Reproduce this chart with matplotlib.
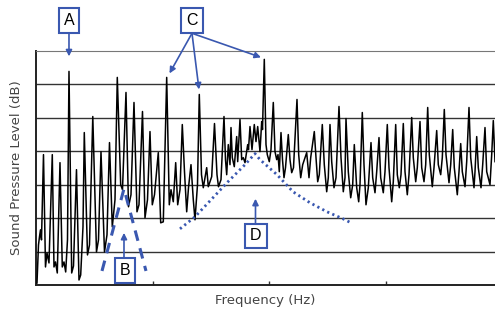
import matplotlib
matplotlib.use("Agg")
import matplotlib.pyplot as plt

# spectrum vertices (frequency bin, level in dB)
freq_bin = [1, 2.5, 3.5, 4.5, 5.5, 7.5, 9.5, 11, 13, 14.5, 16.3, 18, 19.5, 21.3, 24, 26.3, 28, 29.7,
            31.5, 33, 35.7, 37.5, 40.5, 43, 44.7, 47, 48.3, 51.5, 53.5, 56.8, 60.5, 62.5, 65, 68.5,
            71, 73.5, 76.3, 79, 81.3, 84.7, 86.5, 90, 92.5, 95, 98, 101, 103, 106.5, 109, 111.5,
            114, 116.3, 118.5, 122.3, 124.7, 127.3, 130.7, 133.3, 135, 137.3, 139.7, 141.7, 144,
            146.3, 148.5, 150.7, 152.5, 155, 157.3, 159, 161.5, 163.3, 165.5, 167.3, 170.7, 172.3,
            175.7, 178.5, 181, 182.5, 185, 188, 189.5, 190.7, 192.3, 194, 195, 196.3, 198.3, 200.7,
            201.7, 204, 205.7, 207.3, 209, 211.7, 212.5, 214, 216, 218.3, 220, 221.7, 224, 225.7,
            226.5, 228.3, 230, 231.3, 233.3, 235, 237.3, 239, 240.7, 242, 243.3, 245, 246.5, 248,
            249.5, 252.3, 254, 255.7, 257.5, 261, 262.7, 264.7, 266.7, 270.7, 273, 274.7, 278.3,
            280, 281.7, 283.3, 286.3, 288.3, 290.7, 292.3, 294, 295.7, 298, 300, 303, 305, 307.3,
            309, 310, 312.3, 314.7, 316.7, 318.3, 320.7, 322.7, 324, 326.3, 328, 330, 332.3, 335,
            336.7, 339, 340.7, 343, 344.7, 347.3, 349, 351.3, 353, 355.7, 357.3, 359.7, 361.3,
            363.3, 365, 367.3, 369, 371.3, 373, 375.7, 377.3, 379.7, 381.3, 384, 385.7, 388, 389.7,
            391.7, 393.3, 396.3, 398, 400.7, 402.3, 404.7, 406.3, 408.3, 410, 413, 414.7, 416.7,
            418.3, 421.3, 423, 424.7, 426.3, 429, 430.7, 433, 434.7, 438, 439, 440.7, 442.3, 445,
            446.7, 449, 450.7, 454, 455.7, 457.3, 459]
level_db = [0.6, 12.0, 14.4, 16.5, 13.5, 39.0, 5.4, 9.6, 6.6, 21.0, 39.0, 5.4, 6.9, 3.6, 36.6, 5.4,
            6.9, 3.9, 13.5, 63.9, 3.6, 5.7, 34.5, 1.5, 3.0, 17.4, 45.6, 9.0, 12.0, 50.4, 9.9, 13.5,
            39.9, 9.9, 15.0, 42.6, 17.4, 25.5, 62.1, 30.0, 28.5, 57.6, 23.4, 27.0, 54.6, 21.9, 24.0,
            51.9, 20.1, 25.5, 45.9, 24.0, 27.0, 39.6, 18.6, 18.9, 62.1, 24.0, 28.5, 24.9, 36.6,
            24.0, 28.5, 48.0, 33.9, 21.9, 29.1, 36.0, 25.5, 19.5, 30.0, 57.0, 33.0, 29.1, 35.1,
            29.4, 32.4, 48.3, 33.0, 29.4, 31.5, 50.4, 37.5, 33.0, 42.0, 36.0, 47.1, 38.1, 35.4,
            44.4, 36.9, 49.5, 37.5, 38.1, 36.6, 42.0, 40.5, 47.4, 40.5, 48.0, 42.9, 47.4, 39.9,
            48.9, 46.5, 67.5, 42.0, 39.0, 36.9, 40.5, 54.6, 39.9, 37.5, 39.0, 33.9, 45.6, 37.5,
            32.1, 35.1, 45.0, 37.5, 33.6, 35.1, 55.5, 39.0, 32.1, 36.0, 39.6, 32.1, 38.1, 45.9,
            38.1, 30.9, 33.0, 48.0, 36.0, 27.9, 32.1, 48.0, 36.9, 29.1, 32.1, 53.4, 38.1, 27.9,
            32.1, 49.8, 33.9, 26.1, 30.0, 42.0, 29.1, 24.9, 30.0, 51.6, 36.0, 24.0, 29.1, 42.6,
            32.1, 27.6, 33.9, 44.1, 32.1, 27.6, 33.9, 48.0, 35.1, 24.9, 30.9, 48.0, 33.0, 29.1,
            33.0, 48.3, 33.9, 27.0, 33.0, 50.1, 38.1, 30.9, 35.1, 48.9, 35.1, 30.9, 36.0, 53.1,
            39.0, 29.4, 35.1, 46.2, 36.0, 33.0, 38.1, 52.5, 39.0, 30.6, 36.0, 46.5, 35.1, 27.0,
            33.9, 42.3, 33.9, 29.4, 36.9, 53.1, 38.1, 29.1, 33.9, 44.4, 35.1, 29.1, 36.0, 47.1,
            33.9, 30.0, 39.0, 49.2, 36.9]

# envelope guides
env_d_x = [144, 159, 176, 192, 209, 219, 224, 241, 257, 274, 291, 307, 315]
env_d_y = [16.8, 20.4, 25.8, 30.9, 36.0, 39.3, 37.5, 33.0, 27.9, 24.6, 21.9, 19.8, 18.6]
env_b_x = [66, 88, 110]
env_b_y = [4.2, 28.8, 4.2]

blue = '#3a58b0'

fig = plt.figure(figsize=(4.95, 3.11), dpi=100)
ax = fig.add_axes([0.0727, 0.0836, 0.9273, 0.7524])

ax.plot(freq_bin, level_db, color='black', lw=1.1, zorder=3)
ax.plot(env_d_x, env_d_y, color=blue, lw=2.0, ls=(0, (0.8, 1.2)), zorder=4)
ax.plot(env_b_x, env_b_y, color=blue, lw=2.2, ls=(0, (3.5, 2.5)), zorder=4)

ax.set_xlim(0, 459)
ax.set_ylim(0, 70)
ax.set_yticks(range(10, 70, 10))
ax.set_yticklabels([])
ax.tick_params(axis='y', length=0)
ax.set_xticks([116.7, 233.3, 350])
ax.set_xticklabels([])
ax.tick_params(axis='x', direction='in', length=3, width=1, color='#333')
ax.grid(axis='y', color='#333', lw=1.0)
for s in ['left', 'bottom']:
    ax.spines[s].set_color('#222')
    ax.spines[s].set_linewidth(1.4)
ax.spines['top'].set_color('#777')
ax.spines['right'].set_visible(False)

ax.set_xlabel('Frequency (Hz)', fontsize=9.5, color='#444', labelpad=3)
ax.set_ylabel('Sound Pressure Level (dB)', fontsize=9.5, color='#444', labelpad=6)

box = dict(boxstyle='square,pad=0.3', fc='white', ec=blue, lw=1.5)
arrow = dict(arrowstyle='-|>', color=blue, lw=1.2, mutation_scale=9, shrinkA=0, shrinkB=0)

def label(txt, x, y):
    ax.text(x, y, txt, fontsize=11.5, ha='center', va='center', bbox=box,
            family='Liberation Sans', clip_on=False, zorder=6)

def arr(x0, y0, x1, y1):
    ax.annotate('', xy=(x1, y1), xytext=(x0, y0), arrowprops=arrow, annotation_clip=False, zorder=5)

label('A', 33, 79.2)
arr(33, 75.3, 33, 68.4)

label('C', 156, 79.2)
arr(156, 75.3, 133.5, 63.3)
arr(156, 75.3, 163, 58.5)
arr(156, 75.3, 225, 68.1)

label('B', 89, 4.4)
arr(88, 8.4, 88, 15.6)

label('D', 220, 14.7)
arr(219.5, 18.6, 219.5, 25.8)

fig.savefig('out.png', dpi=100)
